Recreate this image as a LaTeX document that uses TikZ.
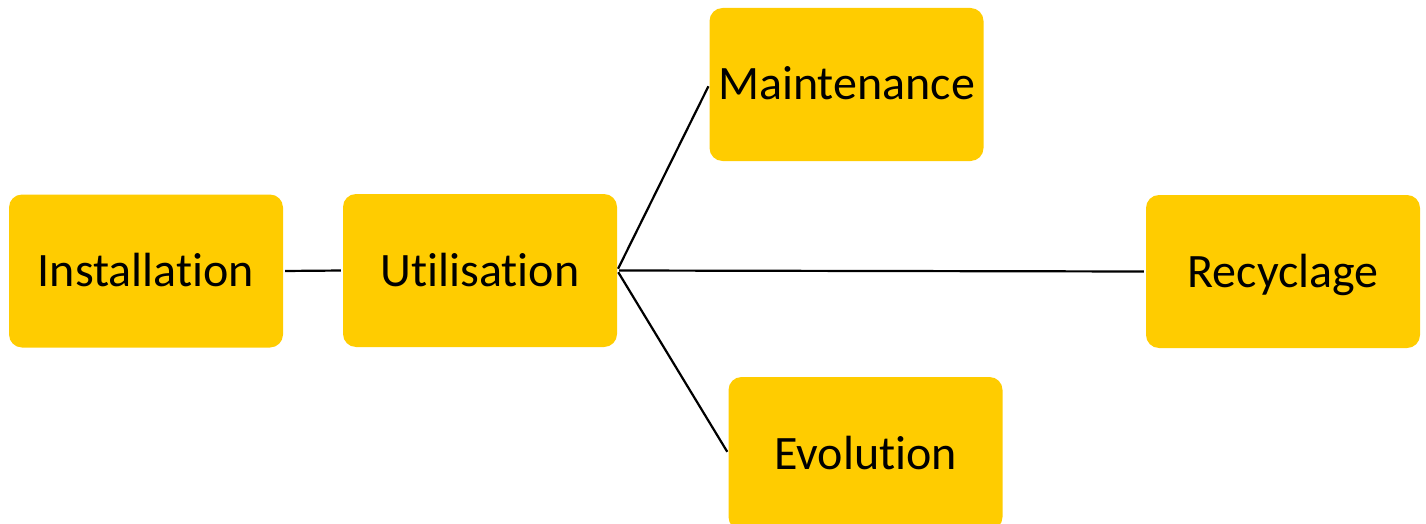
\documentclass[tikz,border=0pt]{standalone}
\usepackage{fontspec}
\setmainfont[RawFeature={-liga}]{Carlito}
\definecolor{boxyellow}{HTML}{FFCC00}
\begin{document}
\begin{tikzpicture}[x=1pt,y=-1pt,
  stagebox/.style={fill=boxyellow, draw=none, rounded corners=13pt,
    minimum width=274pt, minimum height=153pt, inner sep=0pt,
    font=\fontsize{48pt}{56pt}\selectfont, text height=31pt, text depth=0pt},
  link/.style={draw=black, line width=2.2pt, shorten <=2pt, shorten >=2pt}]
  \useasboundingbox (0,0) rectangle (1426,524);
  \node[stagebox] (inst) at (146,271) {Installation};
  \node[stagebox] (util) at (480,270.5) {Utilisation};
  \node[stagebox] (maint) at (846.5,84.5) {Maintenance};
  \node[stagebox] (recyc) at (1283,271.5) {Recyclage};
  \node[stagebox] (evol) at (865.5,453.5) {Evolution};
  \draw[link] (inst.east) -- (util.west);
  \draw[link] (util.east) -- (maint.west);
  \draw[link] (util.east) -- (recyc.west);
  \draw[link] (util.east) -- (evol.west);
\end{tikzpicture}
\end{document}
